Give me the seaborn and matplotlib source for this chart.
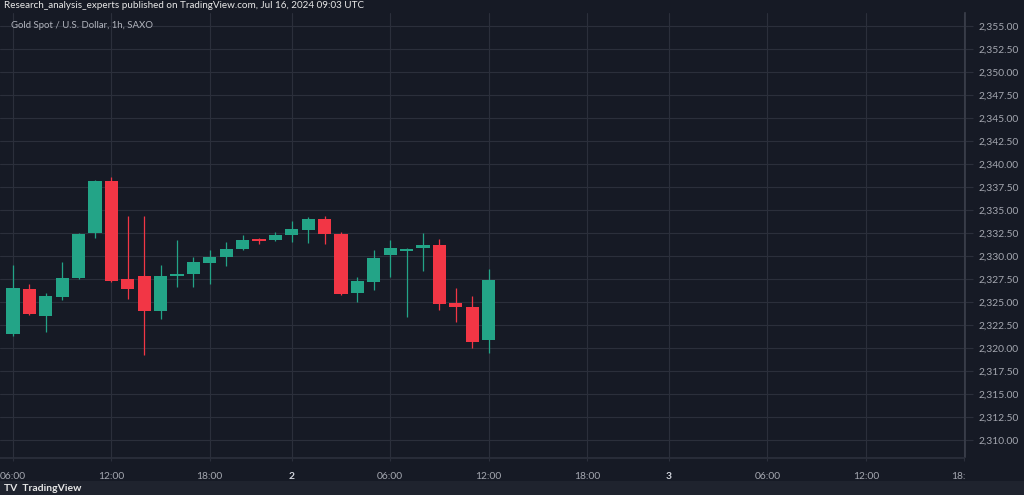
import numpy as np
import matplotlib
matplotlib.use("Agg")
import matplotlib.pyplot as plt
import seaborn as sns
from matplotlib.patches import Rectangle

# Hourly bars (index = bar number on the chart, one hour missing per session)
bar_idx = list(range(30))
opens = [2321.5, 2326.4, 2323.5, 2325.5, 2327.6, 2332.5, 2338.2, 2327.5, 2327.8, 2324.0,
         2327.8, 2328.0, 2329.2, 2329.9, 2330.8, 2331.75, 2331.7, 2332.3, 2332.8, 2334.0,
         2332.4, 2325.95, 2327.2, 2330.1, 2330.5, 2330.85, 2331.2, 2324.85, 2324.5, 2320.9]
highs = [2329.0, 2327.0, 2326.0, 2329.3, 2332.5, 2338.3, 2338.6, 2334.3, 2334.3, 2329.0,
         2331.7, 2329.9, 2330.7, 2331.5, 2332.3, 2332.0, 2332.6, 2333.8, 2334.2, 2334.3,
         2332.6, 2327.7, 2330.65, 2331.75, 2330.9, 2332.5, 2331.8, 2326.5, 2325.6, 2328.6]
lows = [2321.3, 2323.6, 2321.7, 2325.2, 2327.5, 2332.0, 2327.2, 2325.3, 2319.2, 2323.1,
        2326.6, 2326.6, 2327.0, 2328.9, 2330.7, 2331.35, 2331.6, 2331.5, 2331.4, 2331.3,
        2325.8, 2325.0, 2326.3, 2327.75, 2323.4, 2328.4, 2324.1, 2322.8, 2320.0, 2319.4]
closes = [2326.5, 2323.7, 2325.6, 2327.6, 2332.4, 2338.2, 2327.3, 2326.4, 2324.0, 2327.8,
          2328.0, 2329.3, 2329.9, 2330.8, 2331.7, 2331.65, 2332.3, 2332.9, 2334.0, 2332.4,
          2325.9, 2327.25, 2329.8, 2330.85, 2330.75, 2331.2, 2324.8, 2324.45, 2320.7, 2327.4]

x_tick_pos = [0, 6, 12, 17, 23, 29, 35, 40, 46, 52, 58]
x_tick_labels = ["06:00", "12:00", "18:00", "2", "06:00", "12:00", "18:00", "3", "06:00", "12:00", "18:00"]
y_ticks = [2310.0, 2312.5, 2315.0, 2317.5, 2320.0, 2322.5, 2325.0, 2327.5, 2330.0,
           2332.5, 2335.0, 2337.5, 2340.0, 2342.5, 2345.0, 2347.5, 2350.0, 2352.5, 2355.0]

BG = "#161a25"
GRID = "#2b2f3b"
UP = "#23a487"
DOWN = "#f23645"
TXT = "#a4a7b0"

sns.set_theme(style="dark", rc={
    "axes.facecolor": BG, "figure.facecolor": BG,
    "axes.edgecolor": GRID, "grid.color": GRID,
})
plt.rcParams["font.family"] = ["Lato", "DejaVu Sans"]

W, H = 1024, 495
fig = plt.figure(figsize=(W / 100, H / 100), dpi=100)
ax = fig.add_axes([0, (H - 458) / H, 965 / W, (458 - 13) / H])

o = np.array(opens); c = np.array(closes)
hi = np.array(highs); lo = np.array(lows)
colors = [UP if cc >= oo else DOWN for oo, cc in zip(o, c)]
bottoms = np.minimum(o, c)
heights = np.maximum(np.abs(c - o), 0.16)

# wicks, then bodies
ax.vlines(bar_idx, lo, hi, colors=colors, linewidth=0.9, zorder=3)
ax.bar(bar_idx, heights, bottom=bottoms, width=0.8, color=colors, linewidth=0, zorder=4)

ax.set_xlim(-0.79, 58.05)
ax.set_ylim(2308.04, 2356.41)

ax.set_yticks(y_ticks)
ax.set_yticklabels([f"{v:,.2f}" for v in y_ticks])
ax.yaxis.tick_right()
ax.tick_params(axis="y", which="major", length=6, width=0.8, color=GRID, pad=4,
               labelsize=7.4, labelcolor=TXT, right=True, left=False)
ax.set_xticks(x_tick_pos)
ax.set_xticklabels(x_tick_labels)
ax.tick_params(axis="x", length=2, width=0.8, color=GRID, pad=8, labelsize=7.4, labelcolor=TXT,
               bottom=True)
for lab in ax.get_xticklabels():
    if lab.get_text() in ("2", "3"):
        lab.set_fontweight("bold")
        lab.set_color("#d1d4dc")

ax.grid(True, color=GRID, linewidth=0.8)
ax.set_axisbelow(True)
for side in ["top", "left"]:
    ax.spines[side].set_visible(False)
ax.spines["right"].set_color("#3a3e4a")
ax.spines["bottom"].set_color(GRID)
ax.set_xlabel("")
ax.set_ylabel("")

# cover the bottom-right corner (price scale area under the time axis)
fig.add_artist(Rectangle((965 / W, (H - 481) / H), (W - 965) / W, 23 / H,
                         transform=fig.transFigure, facecolor=BG, edgecolor="none", zorder=5))
# bottom strip with the logo text
fig.add_artist(Rectangle((0, 0), 1, (H - 481) / H, transform=fig.transFigure,
                         facecolor="#1f232e", edgecolor="none", zorder=5))
fig.text(4 / W, 1 - 488.5 / H, "TV  TradingView", color="#e6e6e6", fontsize=7.5,
         fontweight="bold", va="center", ha="left", zorder=6)

fig.text(4 / W, 1 - 5.5 / H, "Research_analysis_experts published on TradingView.com, Jul 16, 2024 09:03 UTC",
         color="#e8e8e8", fontsize=7.1, va="center", ha="left")
fig.text(11 / W, 1 - 25 / H, "Gold Spot / U.S. Dollar, 1h, SAXO",
         color="#b2b5be", fontsize=6.9, va="center", ha="left")

fig.savefig("out.png", dpi=100, facecolor=BG)
